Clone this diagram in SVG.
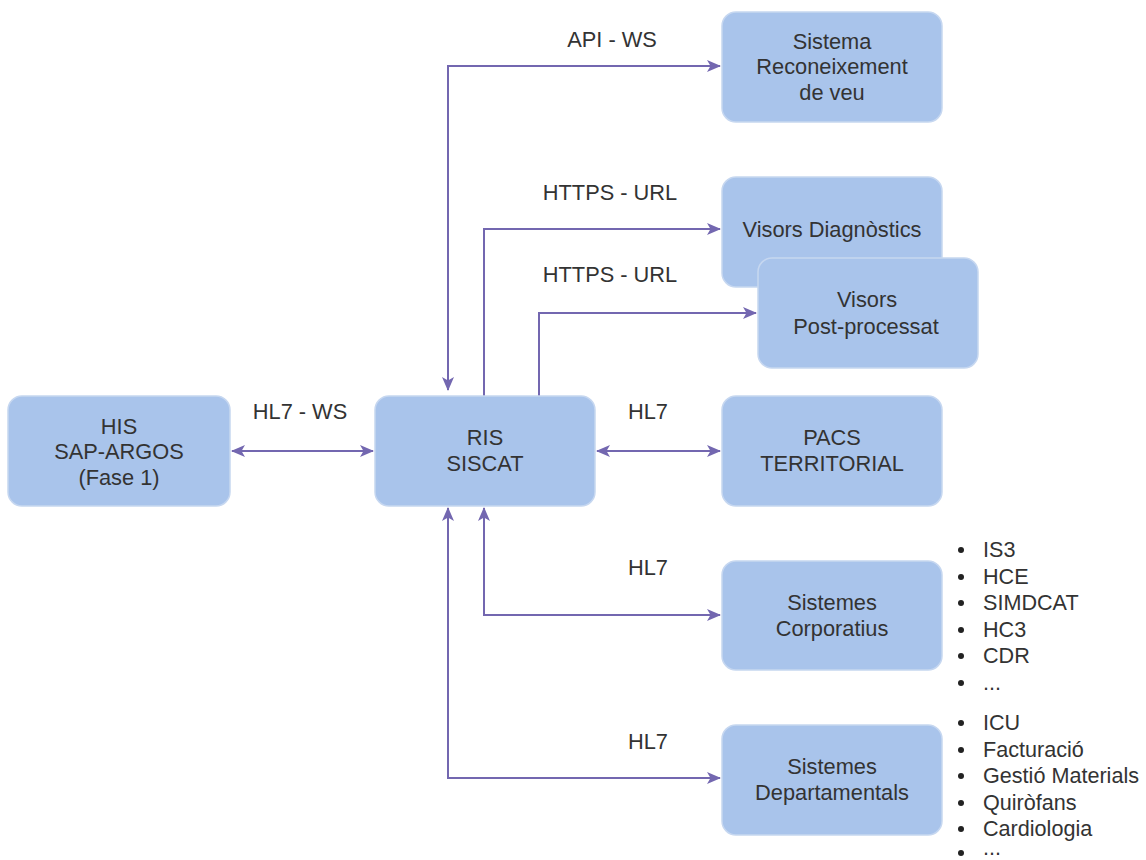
<svg xmlns="http://www.w3.org/2000/svg" width="1146" height="860" viewBox="0 0 1146 860">
<defs>
<style>
.box{fill:#A9C4EB;stroke:#C6D7F0;stroke-width:1.5}
.t{font-family:"Liberation Sans",Arial,sans-serif;font-size:21.8px;fill:#333333;text-anchor:middle}
.l{font-family:"Liberation Sans",Arial,sans-serif;font-size:21.8px;fill:#333333;text-anchor:middle}
.li{font-family:"Liberation Sans",Arial,sans-serif;font-size:21.6px;fill:#333333}
.c{fill:none;stroke:#7367B0;stroke-width:2}
</style>
<marker id="ah" viewBox="0 0 14 14" refX="13" refY="7" markerWidth="14" markerHeight="14" markerUnits="userSpaceOnUse" orient="auto-start-reverse">
<path d="M0,1 L14,7 L0,13 L3.5,7 Z" fill="#7367B0"/>
</marker>
</defs>
<rect width="1146" height="860" fill="#ffffff"/>
<g id="connectors">
<path class="c" d="M448,390 V66 H720" marker-start="url(#ah)" marker-end="url(#ah)"/>
<path class="c" d="M484,396 V229 H720" marker-end="url(#ah)"/>
<path class="c" d="M539,396 V313 H756" marker-end="url(#ah)"/>
<path class="c" d="M232,451 H373" marker-start="url(#ah)" marker-end="url(#ah)"/>
<path class="c" d="M597,451 H720" marker-start="url(#ah)" marker-end="url(#ah)"/>
<path class="c" d="M484,508 V615 H720" marker-start="url(#ah)" marker-end="url(#ah)"/>
<path class="c" d="M448,508 V778 H720" marker-start="url(#ah)" marker-end="url(#ah)"/>
<text class="l" x="612" y="47">API - WS</text>
<text class="l" x="610" y="200">HTTPS - URL</text>
<text class="l" x="610" y="282">HTTPS - URL</text>
<text class="l" x="300" y="419">HL7 - WS</text>
<text class="l" x="648" y="419">HL7</text>
<text class="l" x="648" y="575">HL7</text>
<text class="l" x="648" y="749">HL7</text>
</g>
<g id="his">
<rect class="box" x="8" y="396" width="222" height="110" rx="14"/>
<text class="t" x="119" y="434">HIS</text>
<text class="t" x="119" y="459">SAP-ARGOS</text>
<text class="t" x="119" y="485">(Fase 1)</text>
</g>
<g id="ris">
<rect class="box" x="375" y="396" width="220" height="110" rx="14"/>
<text class="t" x="485" y="445">RIS</text>
<text class="t" x="485" y="471">SISCAT</text>
</g>
<g id="veu">
<rect class="box" x="722" y="12" width="220" height="110" rx="14"/>
<text class="t" x="832" y="49">Sistema</text>
<text class="t" x="832" y="74">Reconeixement</text>
<text class="t" x="832" y="100">de veu</text>
</g>
<g id="visors-diag">
<rect class="box" x="722" y="177" width="220" height="110" rx="14"/>
<text class="t" x="832" y="237">Visors Diagnòstics</text>
</g>
<g id="visors-post">
<rect class="box" x="758" y="258" width="220" height="110" rx="14"/>
<text class="t" x="867" y="307">Visors</text>
<text class="t" x="866" y="334">Post-processat</text>
</g>
<g id="pacs">
<rect class="box" x="722" y="396" width="220" height="110" rx="14"/>
<text class="t" x="832" y="445">PACS</text>
<text class="t" x="832" y="471">TERRITORIAL</text>
</g>
<g id="corporatius">
<rect class="box" x="722" y="561" width="220" height="109" rx="14"/>
<text class="t" x="832" y="610">Sistemes</text>
<text class="t" x="832" y="636">Corporatius</text>
</g>
<g id="departamentals">
<rect class="box" x="722" y="725" width="220" height="110" rx="14"/>
<text class="t" x="832" y="774">Sistemes</text>
<text class="t" x="832" y="800">Departamentals</text>
</g>
<g id="list-corporatius" fill="#222222">
<circle cx="961" cy="550" r="3"/><text class="li" x="983" y="557">IS3</text>
<circle cx="961" cy="577" r="3"/><text class="li" x="983" y="584">HCE</text>
<circle cx="961" cy="603" r="3"/><text class="li" x="983" y="610">SIMDCAT</text>
<circle cx="961" cy="630" r="3"/><text class="li" x="983" y="637">HC3</text>
<circle cx="961" cy="656" r="3"/><text class="li" x="983" y="663">CDR</text>
<circle cx="961" cy="683" r="3"/><text class="li" x="983" y="690">...</text>
</g>
<g id="list-departamentals" fill="#222222">
<circle cx="961" cy="723" r="3"/><text class="li" x="983" y="730">ICU</text>
<circle cx="961" cy="750" r="3"/><text class="li" x="983" y="757">Facturació</text>
<circle cx="961" cy="776" r="3"/><text class="li" x="983" y="783">Gestió Materials</text>
<circle cx="961" cy="803" r="3"/><text class="li" x="983" y="810">Quiròfans</text>
<circle cx="961" cy="829" r="3"/><text class="li" x="983" y="836">Cardiologia</text>
<circle cx="961" cy="853" r="3"/><text class="li" x="983" y="855">...</text>
</g>
</svg>
